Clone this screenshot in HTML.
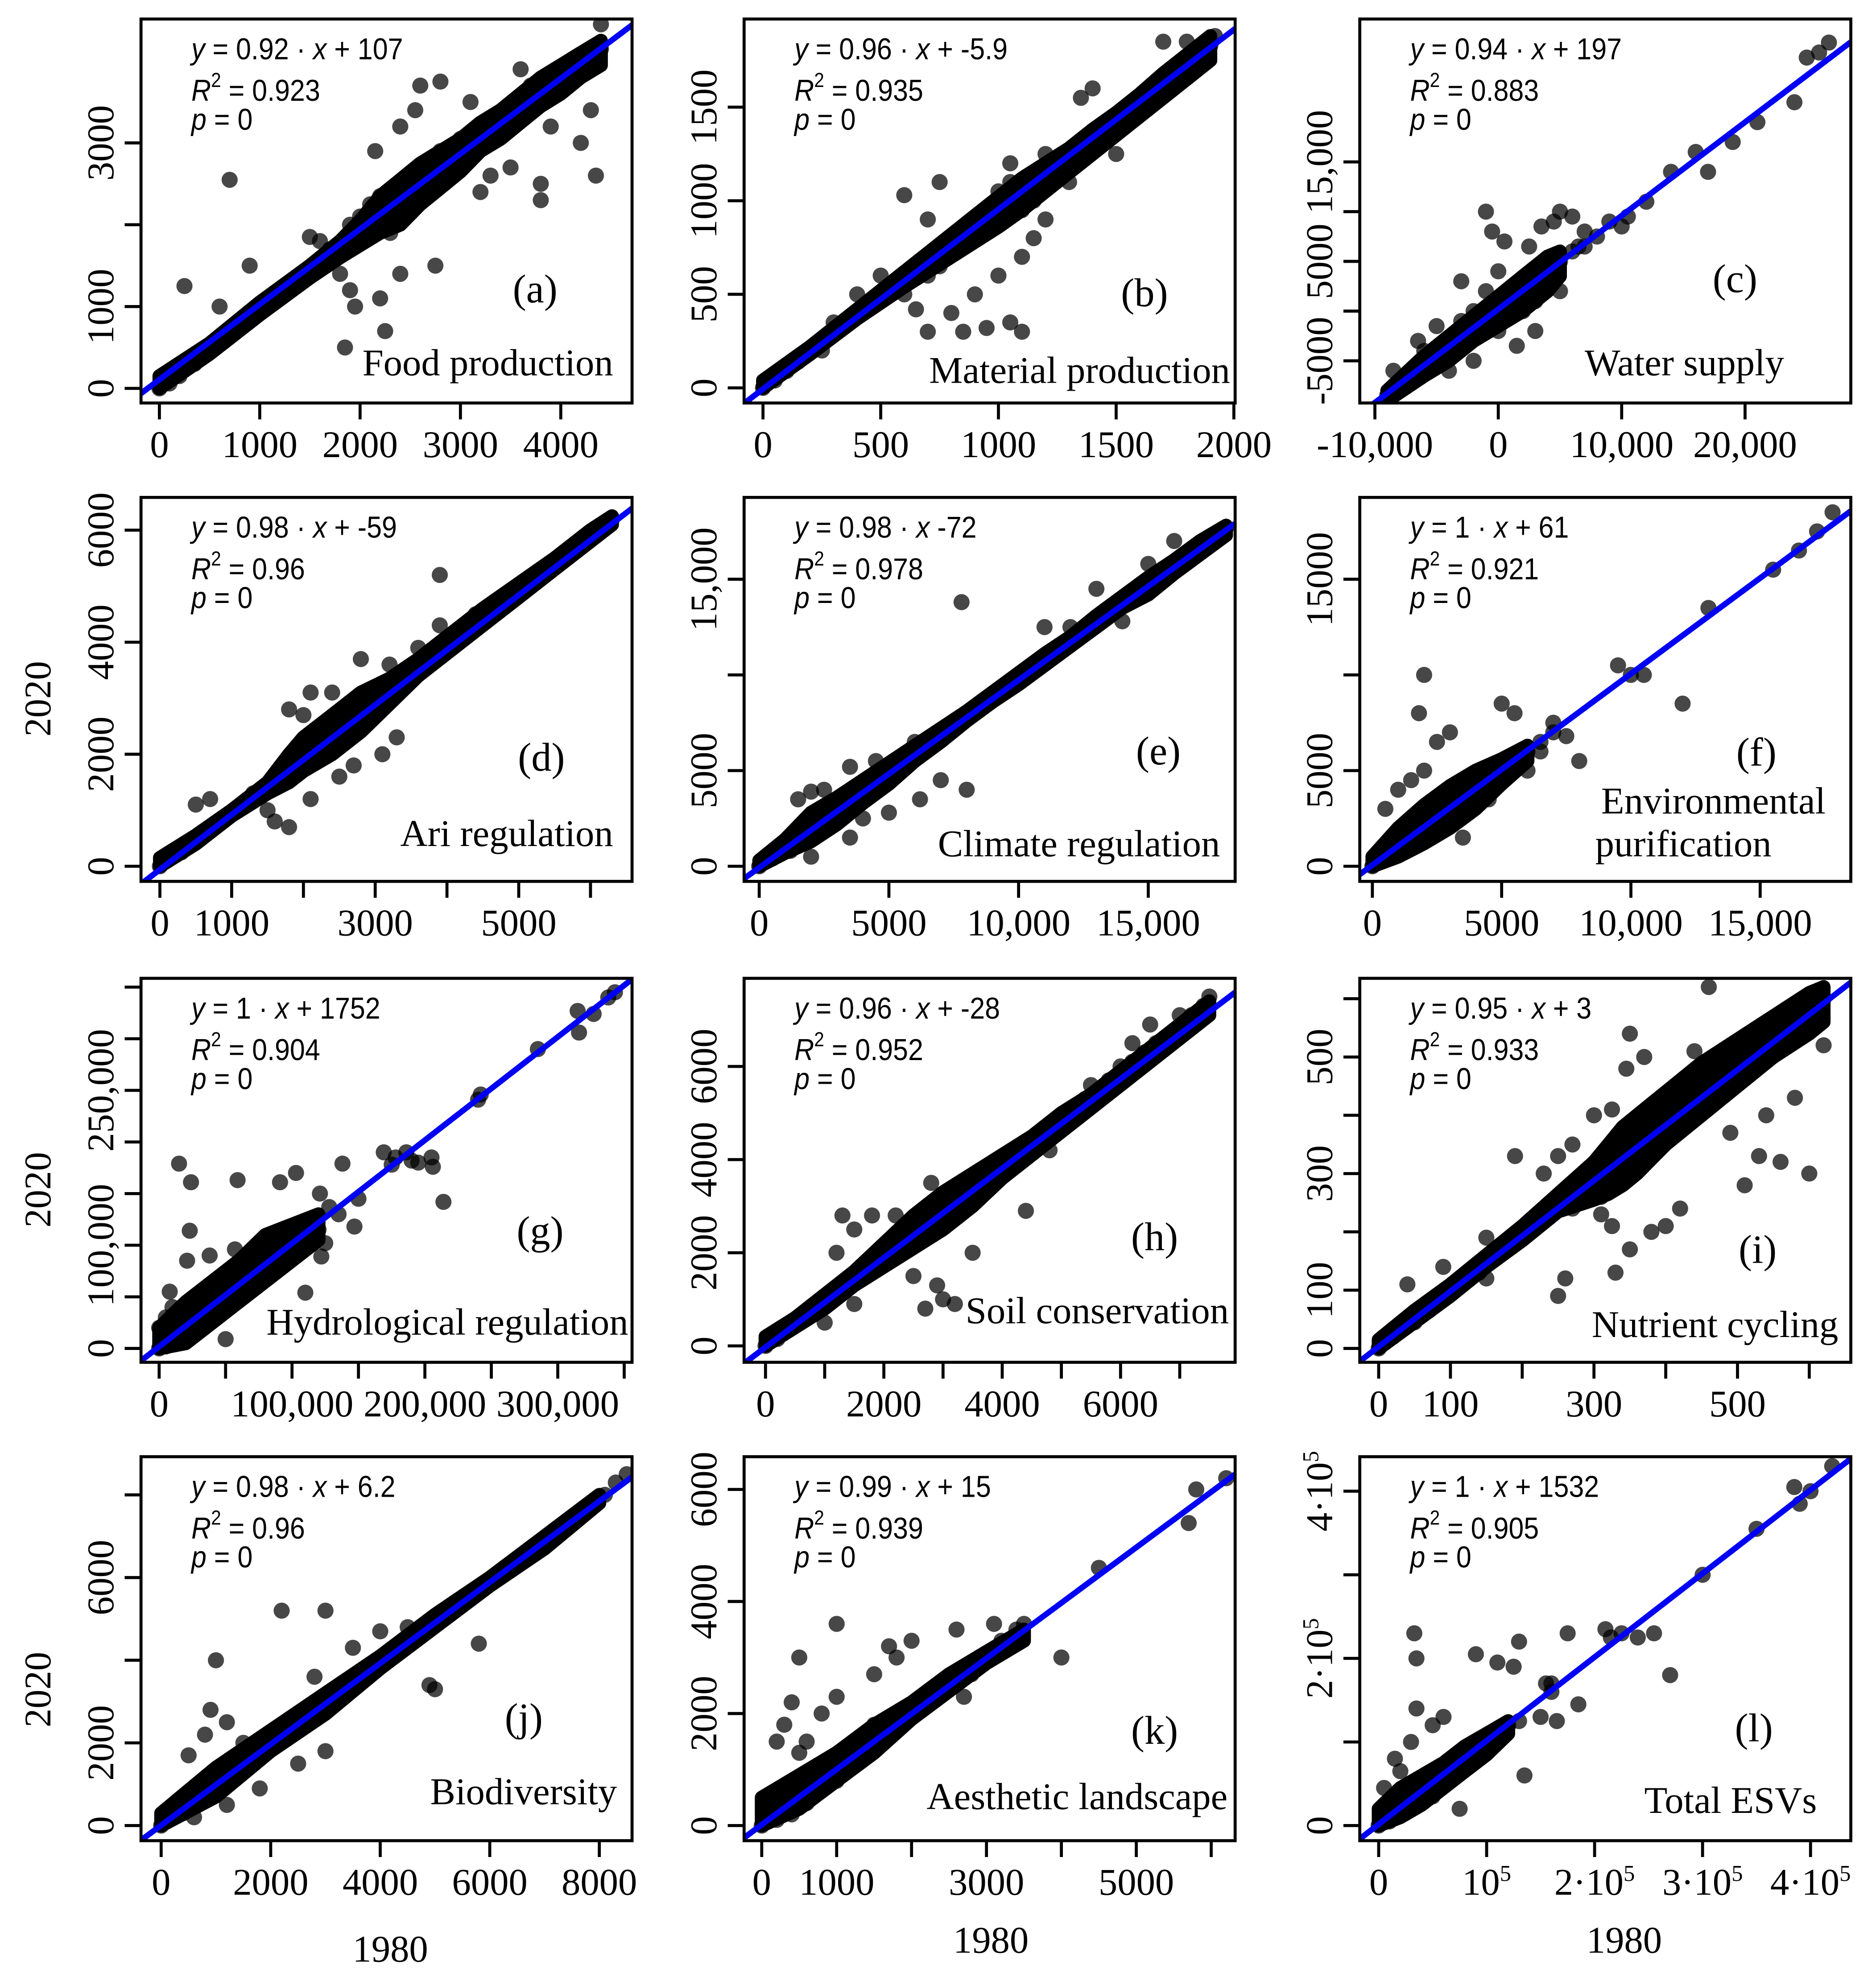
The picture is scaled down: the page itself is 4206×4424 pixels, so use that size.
<!DOCTYPE html>
<html><head><meta charset="utf-8"><title>ESV scatter 1980 vs 2020</title>
<style>html,body{margin:0;padding:0;background:#fff}svg{display:block}</style></head>
<body>
<svg id="fig" xmlns="http://www.w3.org/2000/svg" width="4206" height="4424" viewBox="0 0 1490 1567">
<rect x="0" y="0" width="1490" height="1567" fill="#fff"/>
<g id="panels"></g>
<text transform="translate(40,555) rotate(-90)" text-anchor="middle" font-family="Liberation Serif, serif" font-size="30">2020</text>
<text transform="translate(40,945) rotate(-90)" text-anchor="middle" font-family="Liberation Serif, serif" font-size="30">2020</text>
<text transform="translate(40,1342) rotate(-90)" text-anchor="middle" font-family="Liberation Serif, serif" font-size="30">2020</text>
<text x="310" y="1558" text-anchor="middle" font-family="Liberation Serif, serif" font-size="30">1980</text>
<text x="787" y="1551" text-anchor="middle" font-family="Liberation Serif, serif" font-size="30">1980</text>
<text x="1290" y="1551" text-anchor="middle" font-family="Liberation Serif, serif" font-size="30">1980</text>
</svg>
<script>
// ---------- data ----------
const aX=[0,50,100,150,200,300,350,400,500,600,700,800,900,1000,1100,1200,1300,1400,1500,1600,1700,1800,1900,1900,2000,2000,2100,2100,2200,2200,2300,2300,2350,2400,2400,2500,2500,2600,2600,2700,2700,2800,2800,2900,3000,3000,3100,3200,3300,3400,3500,3600,3700,3800,3900,4000,4100,4200,4300,4400,250,700,600,900,1500,1900,1950,2250,1850,2200,2400,2750,2150,2400,2600,2800,2550,3300,3200,3500,3800,3800,4350,4200,4300,3700,3900,4400,3600,1800,2900,3100,1600];
const aY=[0,80,60,200,150,350,300,450,500,600,700,780,900,960,1100,1150,1300,1330,1450,1500,1700,1700,1850,2000,1900,2100,2050,2250,2100,2350,2200,1900,2450,2300,2100,2400,2600,2500,2300,2700,2550,2700,2900,2800,2900,3050,3000,3100,3300,3250,3400,3500,3600,3700,3800,3850,3950,4050,4100,4150,1250,2550,1000,1500,1850,1200,1000,700,500,1100,1400,1500,2900,3200,3700,3750,3400,2600,2400,2700,2500,2300,2600,3000,3400,3700,3200,4450,3900,1400,2600,3500,1800];
const bX=[0,20,50,80,100,150,200,250,300,350,400,450,500,550,600,650,700,700,750,750,800,800,850,850,900,900,950,950,1000,1000,1050,1050,1100,1100,1150,1200,1200,1250,1300,1350,1400,1450,1500,1550,1600,1650,1700,1750,1800,1850,1900,1920,600,750,700,900,800,850,950,1050,1100,700,600,650,1000,1100,1150,1200,1300,1400,1500,1350,1800,1700,500,400,300,250,1050,1150];
const bY=[0,30,40,80,90,140,190,240,300,330,390,430,480,520,580,620,670,600,720,650,780,720,820,750,880,800,920,860,960,1050,1000,1100,1050,950,1100,1150,1250,1200,1250,1300,1350,1400,1450,1500,1540,1600,1640,1700,1730,1780,1830,1880,1030,1100,900,500,400,300,320,350,300,300,500,420,600,700,800,900,1100,1600,1250,1550,1850,1850,600,500,350,200,1200,1000];
const cX=[-9000,-8500,-8000,-7500,-7000,-6500,-6000,-5500,-5000,-4500,-4000,-3500,-3000,-2500,-2000,-1500,-1000,-500,0,500,1000,1500,2000,2500,3000,3500,4000,-6000,-3000,-2000,0,1000,2000,-4000,-1000,3000,5000,6000,7000,8000,-1000,-500,500,2500,3500,4500,5000,6000,6500,7000,9000,10000,10500,5000,3000,1500,-2000,-6500,-8500,-5000,12000,14000,16000,17000,19000,21000,24000,25000,26000,26800,-3000,0];
const cY=[-8500,-8000,-7500,-7200,-6500,-6000,-5500,-5000,-4500,-4500,-3500,-3000,-2500,-2000,-1500,-1000,-500,0,500,1000,1500,1800,2300,2800,3200,3500,4000,-4000,-1000,0,-2000,-500,0,-6000,2000,1000,5000,6000,6500,7500,10000,8000,7000,6500,8500,9000,10000,9500,6500,8000,9000,8500,9500,2000,-2000,-3500,-5000,-3000,-6000,-1500,11000,14000,16000,14000,17000,19000,21000,25500,26000,27000,3000,4000];
const dX=[0,100,200,300,500,700,900,1100,1300,1500,1700,1800,1900,2000,2100,2100,2200,2300,2300,2400,2500,2500,2600,2600,2700,2800,2800,2900,3000,3000,3100,3200,3300,3400,3500,3600,3700,3800,4000,4200,4400,4600,4800,5000,5200,5400,5600,5800,6000,6200,6300,3900,2800,2000,1800,2100,2400,1600,1800,2100,2700,3300,3100,500,700,1500,2500,3600,3200,3900,4400];
const dY=[0,100,200,250,450,650,850,1050,1300,1450,1650,1900,1700,2000,2200,1900,2100,2400,2100,2300,2500,2200,2650,2400,2700,2800,2600,2900,3000,2800,3100,3200,3300,3400,3500,3550,3700,3800,3950,4200,4350,4600,4700,4900,5100,5300,5500,5700,5950,6100,6200,5200,3700,2700,2800,3100,3100,800,700,1200,1800,2300,2000,1100,1200,1000,1600,3900,3600,4300,4500];
const eX=[0,200,500,800,1000,1200,1500,1500,2000,2000,2500,2500,3000,3000,3500,4000,4500,5000,5500,6000,6500,7000,7500,8000,8500,9000,9500,10000,10500,11000,11500,12000,12500,13000,13500,14000,14500,15000,16000,17000,18000,1500,2000,2500,3500,4500,6000,7800,8000,7000,4000,3500,5000,6200,2000,11000,13000,15000,16000,14000,17500,12000];
const eY=[0,300,400,800,1000,800,1300,1800,2000,1500,2300,2800,3000,2500,3300,3800,4200,4800,5300,5800,6400,6800,7400,7800,8300,8800,9300,9800,10300,10800,11300,11700,12200,12800,13200,13700,14200,14700,15600,16500,17700,3500,3900,4000,5200,5500,6500,13800,4000,4500,2500,1500,2800,3500,500,12500,14500,15800,17000,12800,17200,12500];
const fX=[0,300,500,800,1000,1000,1500,1500,1500,2000,2000,2000,2500,2500,3000,3000,3000,3500,3500,4000,4000,4500,5000,5500,6000,6500,7000,500,1000,1500,2000,2000,1800,2500,3000,5000,5500,6500,7000,7500,8000,9500,10000,10500,12000,13000,15500,16500,17200,17800,6000,3500,4500];
const fY=[0,300,800,500,1200,700,1500,1000,2200,2000,1500,2700,2500,2000,3000,2500,3600,3500,3000,4000,3600,4500,5000,5500,6000,6500,7000,3000,4000,4500,5000,10000,8000,6500,7000,8500,8000,6000,7500,6800,5500,10500,10000,10000,8500,13500,15500,16500,17500,18500,5000,1500,3500];
const gX=[0,2000,5000,5000,10000,10000,15000,15000,20000,20000,25000,25000,30000,35000,35000,40000,45000,50000,55000,60000,65000,70000,75000,80000,85000,90000,95000,100000,110000,120000,0,5000,10000,8000,15000,24000,59000,103000,91000,138000,205000,214000,147000,121000,128000,110000,23000,122000,125000,57000,38000,21000,50000,169000,178000,186000,195000,206000,175000,190000,242000,240000,285000,315000,316000,327000,338000,343000,135000,150000];
const gY=[0,5000,2000,10000,5000,15000,10000,25000,15000,30000,20000,35000,25000,30000,45000,35000,40000,45000,55000,55000,60000,70000,75000,75000,90000,95000,95000,100000,110000,115000,20000,30000,40000,55000,179000,161000,163000,170000,161000,179000,185000,142000,118000,150000,137000,54000,114000,89000,102000,96000,90000,85000,9000,190000,185000,190000,180000,176000,178000,182000,246000,241000,290000,327000,306000,324000,340000,345000,130000,145000];
const hX=[0,100,200,300,500,700,900,1100,1300,1500,1700,1900,2000,2100,2200,2300,2400,2500,2600,2600,2700,2800,2800,2900,3000,3100,3200,3300,3400,3500,3600,3700,3800,4000,4200,4400,4600,4800,5000,5200,5400,5600,5800,6000,6200,6400,6600,6800,7000,7200,7400,7500,1200,1500,1800,2200,2800,3000,3200,2700,2900,1000,1500,2500,3500,4400,4800,5500,6200,6500,7000,1300];
const hY=[0,200,150,300,500,650,900,1000,1300,1400,1700,1800,2100,1900,2300,2100,2500,2300,2700,2400,2600,2900,2500,2800,3000,3100,3200,3100,3400,3500,3500,3700,3800,4000,4100,4300,4500,4700,4900,5100,5300,5400,5700,6000,6100,6300,6500,6500,6800,7100,7300,7500,2000,2500,2800,2800,3500,1000,900,800,1300,500,900,1500,2000,2900,4200,5600,6500,6900,7100,2800];
const iX=[0,10,20,30,40,50,60,70,80,100,120,140,160,180,200,220,240,260,270,280,290,300,300,310,310,320,320,330,330,340,340,350,350,360,360,370,380,380,390,400,410,420,430,440,450,460,470,480,490,500,510,520,530,540,550,560,570,580,590,600,610,620,40,90,150,150,190,230,250,270,300,325,345,350,370,350,330,325,260,250,310,270,400,380,460,440,470,540,580,560,600,530,510,420,490,600,620];
const iY=[0,15,20,30,40,45,60,65,80,95,115,130,155,170,190,210,230,250,240,270,280,280,300,320,260,300,340,330,280,320,360,330,370,350,310,360,380,340,390,380,400,410,420,440,440,460,450,470,490,480,500,510,520,540,550,560,560,580,590,600,610,600,110,140,120,190,330,300,330,350,400,410,480,540,500,170,130,210,120,90,230,250,210,200,620,510,480,400,430,320,300,330,280,240,370,560,520];
const jX=[0,200,400,500,700,900,1000,1100,1200,1300,1400,1500,1600,1700,1800,2000,2200,2400,2600,2800,3000,3200,3400,3600,3800,4000,4200,4400,4600,4800,5000,5200,5400,5600,5800,6000,6200,6500,6800,7000,7300,8100,8300,8500,500,800,900,1000,1200,1500,2200,3000,2800,3500,4000,1800,2500,3000,4900,5000,5800,1200,600,4500];
const jY=[0,300,300,600,700,800,1100,900,1300,1100,1500,1300,1700,1500,1800,2000,2100,2400,2500,2800,2900,3200,3300,3600,3700,4000,4100,4400,4500,4700,5000,5100,5300,5500,5700,5900,6100,6300,6700,6900,7200,8000,8300,8500,1700,2200,2800,4000,2500,2000,5200,5200,3600,4300,4700,900,1500,1800,3400,3300,4400,500,200,4800];
const kX=[0,100,200,200,300,400,400,500,600,600,700,800,800,900,1000,1000,1100,1200,1300,1400,1500,1600,1700,1800,2000,2200,2400,2600,2800,3000,3200,3400,4500,5700,5800,6200,200,300,400,500,500,800,1000,1000,1500,1700,1800,2000,2600,2800,3100,3500,4000,2700,1500,600];
const kY=[0,200,100,500,300,500,200,500,700,400,800,700,1000,900,1100,800,1000,1300,1200,1400,1500,1600,1700,1800,2000,2200,2400,2600,2800,3000,3300,3500,4600,5400,6000,6200,1500,1800,2200,3000,1300,2000,2300,3600,2700,3200,3000,3300,3500,2700,3600,3600,3000,2300,1800,1500];
const lX=[0,5000,10000,10000,15000,20000,20000,25000,30000,30000,35000,40000,40000,45000,50000,50000,55000,60000,65000,70000,75000,80000,85000,90000,100000,110000,120000,130000,5000,15000,20000,30000,35000,35000,33000,50000,60000,90000,110000,125000,130000,175000,155000,160000,185000,165000,135000,75000,210000,215000,225000,240000,255000,270000,300000,350000,385000,390000,400000,420000,150000,160000];
const lY=[0,10000,5000,20000,10000,30000,15000,25000,35000,20000,30000,45000,30000,40000,50000,35000,55000,50000,65000,60000,75000,80000,80000,90000,100000,110000,120000,125000,45000,80000,65000,100000,140000,200000,230000,120000,130000,205000,195000,190000,220000,230000,170000,160000,145000,125000,60000,20000,235000,225000,230000,225000,230000,180000,300000,355000,405000,385000,400000,430000,130000,170000];

// dense core of each cloud: x, lower edge, upper edge
const bandX=[[0,500,1000,1500,1800,2000,2200,2400,2600,2800,3000,3200,3400,3600,3800,4000,4200,4400],[0,200,400,600,700,800,900,1000,1100,1200,1300,1400,1500,1600,1700,1800,1900],[-9000,-6000,-4000,-2000,0,2000,4000,5000],[0,500,1000,1500,1800,2000,2400,2800,3200,3600,4000,4500,5000,5500,6000,6300],[0,1000,2000,3000,4000,5000,6000,7000,8000,9000,10000,11000,12000,13000,14000,15000,16000,17000,18000],[0,1000,2000,3000,4000,5000,6000],[0,20000,40000,60000,80000,100000,120000],[0,500,1000,1500,2000,2500,3000,3500,4000,4500,5000,5500,6000,6500,7000,7500],[0,50,100,150,200,250,300,320,340,360,380,400,450,500,550,600,620],[0,1000,2000,3000,4000,5000,6000,7000,8000],[0,500,1000,1500,2000,2500,3000,3500],[0,20000,40000,60000,80000,100000,120000]];
const bandLo=[[0,420,900,1350,1600,1750,1900,2000,2250,2450,2650,2900,3050,3250,3450,3600,3800,3950],[0,180,370,540,620,700,780,860,950,1050,1150,1250,1350,1450,1550,1650,1750],[-9000,-6500,-5000,-3000,-1500,0,2000,3500],[0,400,900,1300,1500,1700,2000,2400,2900,3400,3800,4300,4800,5300,5800,6100],[0,700,1300,2200,3300,4300,5500,6500,7600,8600,9500,10500,11500,12500,13500,14200,15300,16300,17300],[0,500,1200,2000,3000,4300,5500],[0,5000,25000,45000,65000,85000,105000],[0,400,800,1300,1700,2100,2500,3000,3600,4100,4600,5100,5600,6100,6600,7100],[0,45,90,140,185,235,255,265,280,300,325,350,400,450,500,540,560],[0,700,1800,2700,3800,4800,5800,6700,7800],[0,300,800,1300,1900,2400,2900,3300],[0,10000,25000,45000,65000,85000,110000]];
const bandHi=[[150,550,1050,1500,1800,2050,2350,2550,2750,2900,3050,3250,3400,3600,3800,3950,4100,4250],[40,220,420,620,720,820,920,1020,1120,1200,1280,1380,1470,1570,1680,1780,1880],[-8000,-4500,-2500,-500,1500,3500,5500,6000],[150,550,1000,1500,2000,2300,2700,3100,3350,3700,4100,4600,5050,5500,6000,6250],[300,1400,2800,3600,4500,5400,6300,7200,8100,9100,10100,11100,12000,13100,14100,15100,16000,17000,17800],[500,2000,3200,4200,5000,5600,6300],[20000,45000,65000,85000,110000,120000,130000],[200,600,1100,1600,2200,2800,3300,3700,4100,4500,5000,5400,5900,6400,6900,7400],[15,65,110,160,210,265,320,350,380,400,420,440,490,530,570,610,620],[300,1400,2300,3200,4100,5100,6000,7000,8000],[500,900,1300,1800,2200,2700,3100,3500],[20000,45000,60000,75000,95000,110000,125000]];

const fitSlope=[0.92,0.96,0.94,0.98,0.98,1,1,0.96,0.95,0.98,0.99,1];
const fitIntercept=[107,-5.9,197,-59,-72,61,1752,-28,3,6.2,15,1532];
const slopeText=["0.92","0.96","0.94","0.98","0.98","1","1","0.96","0.95","0.98","0.99","1"];
const interceptText=["+ 107","+ -5.9","+ 197","+ -59","-72","+ 61","+ 1752","+ -28","+ 3","+ 6.2","+ 15","+ 1532"];
const r2Text=["0.923","0.935","0.883","0.96","0.978","0.921","0.904","0.952","0.933","0.96","0.939","0.905"];
const panelLetters=["(a)","(b)","(c)","(d)","(e)","(f)","(g)","(h)","(i)","(j)","(k)","(l)"];
const panelTitles=[["Food production"],["Material production"],["Water supply"],["Ari regulation"],["Climate regulation"],["Environmental","purification"],["Hydrological regulation"],["Soil conservation"],["Nutrient cycling"],["Biodiversity"],["Aesthetic landscape"],["Total ESVs"]];
const xTickVals=[[0,1000,2000,3000,4000],[0,500,1000,1500,2000],[-10000,0,10000,20000],[0,1000,2000,3000,4000,5000,6000],[0,5000,10000,15000],[0,5000,10000,15000],[0,50000,100000,150000,200000,250000,300000,350000],[0,1000,2000,3000,4000,5000,6000,7000],[0,100,200,300,400,500,600],[0,2000,4000,6000,8000],[0,1000,2000,3000,4000,5000,6000],[0,100000,200000,300000,400000]];
const xTickLabels=[["0","1000","2000","3000","4000"],["0","500","1000","1500","2000"],["-10,000","0","10,000","20,000"],["0","1000","","3000","","5000",""],["0","5000","10,000","15,000"],["0","5000","10,000","15,000"],["0","","100,000","","200,000","","300,000",""],["0","","2000","","4000","","6000",""],["0","100","","300","","500",""],["0","2000","4000","6000","8000"],["0","1000","","3000","","5000",""],["0","10^5","2·10^5","3·10^5","4·10^5"]];
const yTickVals=[[0,1000,2000,3000],[0,500,1000,1500],[-5000,0,5000,10000,15000],[0,2000,4000,6000],[0,5000,10000,15000],[0,5000,10000,15000],[0,50000,100000,150000,200000,250000,300000,350000],[0,2000,4000,6000],[0,100,200,300,400,500,600],[0,2000,4000,6000,8000],[0,2000,4000,6000],[0,100000,200000,300000,400000]];
const yTickLabels=[["0","1000","","3000"],["0","500","1000","1500"],["-5000","","5000","","15,000"],["0","2000","4000","6000"],["0","5000","","15,000"],["0","5000","","15000"],["0","","100,000","","","250,000","",""],["0","2000","4000","6000"],["0","100","","300","","500",""],["0","2000","","6000",""],["0","2000","4000","6000"],["0","","2·10^5","","4·10^5"]];

const seriesX=[aX,bX,cX,dX,eX,fX,gX,hX,iX,jX,kX,lX];
const seriesY=[aY,bY,cY,dY,eY,fY,gY,hY,iY,jY,kY,lY];

// ---------- layout (display units) ----------
const colX=[112,591,1080], rowY=[15,395,777,1157], W=390, H=305;
const xCal=[[0,126.6,4000,445.4],[0,606,2000,980],[0,1190,10000,1288],[0,127,5000,412],[0,603,15000,912],[0,1090,15000,1398],[0,126.4,300000,443],[0,608,6000,890],[0,1095,500,1380],[0,128,8000,476],[0,605,5000,902.5],[0,1095,400000,1438]];
const yCal=[[0,308.4,3000,113.4],[0,308,1500,85],[0,247,10000,168],[0,688,6000,421],[0,688,15000,460],[0,688,15000,460],[0,1071,300000,825],[0,1069,6000,847],[0,1071,500,839.5],[0,1450,6000,1253],[0,1450,6000,1183],[0,1450,400000,1184.4]];
const txtPos=[[425,240,487,298],[909,243,977,304],[1378,232,1417,298],[430,612,487,672],[920,607,969,680],[1395,608,1450,646],[429,988,499,1060],[917,993,976,1051],[1396,1003,1460,1062],[416,1375,490,1433],[917,1385,975,1437],[1393,1383,1443,1440]];

const NS="http://www.w3.org/2000/svg";
function mk(tag,attrs,parent){const e=document.createElementNS(NS,tag);for(const k in attrs)e.setAttribute(k,attrs[k]);if(parent)parent.appendChild(e);return e;}
function lin(c){return v=>c[1]+(v-c[0])*(c[3]-c[1])/(c[2]-c[0]);}
function supText(el,s){const parts=s.split("^");el.appendChild(document.createTextNode(parts[0]));if(parts[1]){const t=mk("tspan",{"dy":"-11","font-size":"18"},el);t.textContent=parts[1];}}

const root=document.getElementById("panels");
const serif="Liberation Serif, serif", sans="Liberation Sans, Arial, sans-serif";
for(let p=0;p<12;p++){
  const x0=colX[p%3], y0=rowY[Math.floor(p/3)];
  const sx=lin(xCal[p]), sy=lin(yCal[p]);
  const g=mk("g",{},root);
  
  
  const cp=mk("clipPath",{id:"cp"+p},g);
  mk("rect",{x:x0,y:y0,width:W,height:H},cp);
  const pts=mk("g",{"clip-path":"url(#cp"+p+")"},g);
  
  
  const bx=bandX[p], lo=bandLo[p], hi=bandHi[p];
  let d="";
  for(let i=0;i<bx.length;i++) d+=(i?"L":"M")+sx(bx[i]).toFixed(1)+","+sy(hi[i]).toFixed(1);
  for(let i=bx.length-1;i>=0;i--) d+="L"+sx(bx[i]).toFixed(1)+","+sy(lo[i]).toFixed(1);
  d+="Z";
  const band=mk("path",{d:d,fill:"#000",stroke:"#000","stroke-width":11,"stroke-linejoin":"round"},pts);
  
  
  const xs=seriesX[p], ys=seriesY[p];
  for(let i=0;i<xs.length;i++){
    const c=mk("circle",{cx:sx(xs[i]).toFixed(1),cy:sy(ys[i]).toFixed(1),r:6.4,fill:"#000","fill-opacity":0.72},pts);
    
    
  }
  const xl=xCal[p][0]+(x0-xCal[p][1])*(xCal[p][2]-xCal[p][0])/(xCal[p][3]-xCal[p][1]);
  const xr=xCal[p][0]+(x0+W-xCal[p][1])*(xCal[p][2]-xCal[p][0])/(xCal[p][3]-xCal[p][1]);
  const ln=mk("line",{x1:sx(xl),y1:sy(fitSlope[p]*xl+fitIntercept[p]),x2:sx(xr),y2:sy(fitSlope[p]*xr+fitIntercept[p]),stroke:"#0000f5","stroke-width":4.6,"clip-path":"url(#cp"+p+")"},g);
  
  
  const box=mk("rect",{x:x0,y:y0,width:W,height:H,fill:"none",stroke:"#000","stroke-width":2.4},g);
  
  
  xTickVals[p].forEach((v,i)=>{
    const px=sx(v);
    const t=mk("line",{x1:px,y1:y0+H,x2:px,y2:y0+H+13,stroke:"#000","stroke-width":2.4},g);
    
    
    const lab=xTickLabels[p][i];
    if(lab){const tx=mk("text",{x:px,y:y0+H+43,"text-anchor":"middle","font-family":serif,"font-size":30},g);supText(tx,lab);
      
      }
  });
  yTickVals[p].forEach((v,i)=>{
    const py=sy(v);
    const t=mk("line",{x1:x0,y1:py,x2:x0-13,y2:py,stroke:"#000","stroke-width":2.4},g);
    
    
    const lab=yTickLabels[p][i];
    if(lab){const ty=mk("text",{transform:"translate("+(x0-22)+","+py+") rotate(-90)","text-anchor":"middle","font-family":serif,"font-size":30},g);supText(ty,lab);
      
      }
  });
  const ex=x0+40;
  const eg=mk("g",{transform:"translate("+ex+",0) scale(0.9,1) translate("+(-ex)+",0)"},g);
  const e1=mk("text",{x:ex,y:y0+32,"font-family":sans,"font-size":24},eg);
  
  
  mk("tspan",{"font-style":"italic"},e1).textContent="y";
  e1.appendChild(document.createTextNode(" = "+slopeText[p]+" · "));
  mk("tspan",{"font-style":"italic"},e1).textContent="x";
  e1.appendChild(document.createTextNode(" "+interceptText[p]));
  const e2=mk("text",{x:ex,y:y0+65,"font-family":sans,"font-size":24},eg);
  
  
  mk("tspan",{"font-style":"italic"},e2).textContent="R";
  mk("tspan",{"dy":"-11","font-size":"16"},e2).textContent="2";
  mk("tspan",{"dy":"11"},e2).textContent=" = "+r2Text[p];
  const e3=mk("text",{x:ex,y:y0+88,"font-family":sans,"font-size":24},eg);
  
  
  mk("tspan",{"font-style":"italic"},e3).textContent="p";
  e3.appendChild(document.createTextNode(" = 0"));
  const tp=txtPos[p];
  const lt=mk("text",{x:tp[0],y:tp[1],"text-anchor":"middle","font-family":serif,"font-size":32},g);
  lt.textContent=panelLetters[p];
  
  
  panelTitles[p].forEach((s,k)=>{
    const tt=mk("text",{x:k===0?tp[2]:1337,y:tp[3]+k*34,"text-anchor":k===0?"end":"middle","font-family":serif,"font-size":30},g);
    tt.textContent=s;
    
    
  });
}
</script>
</body></html>
